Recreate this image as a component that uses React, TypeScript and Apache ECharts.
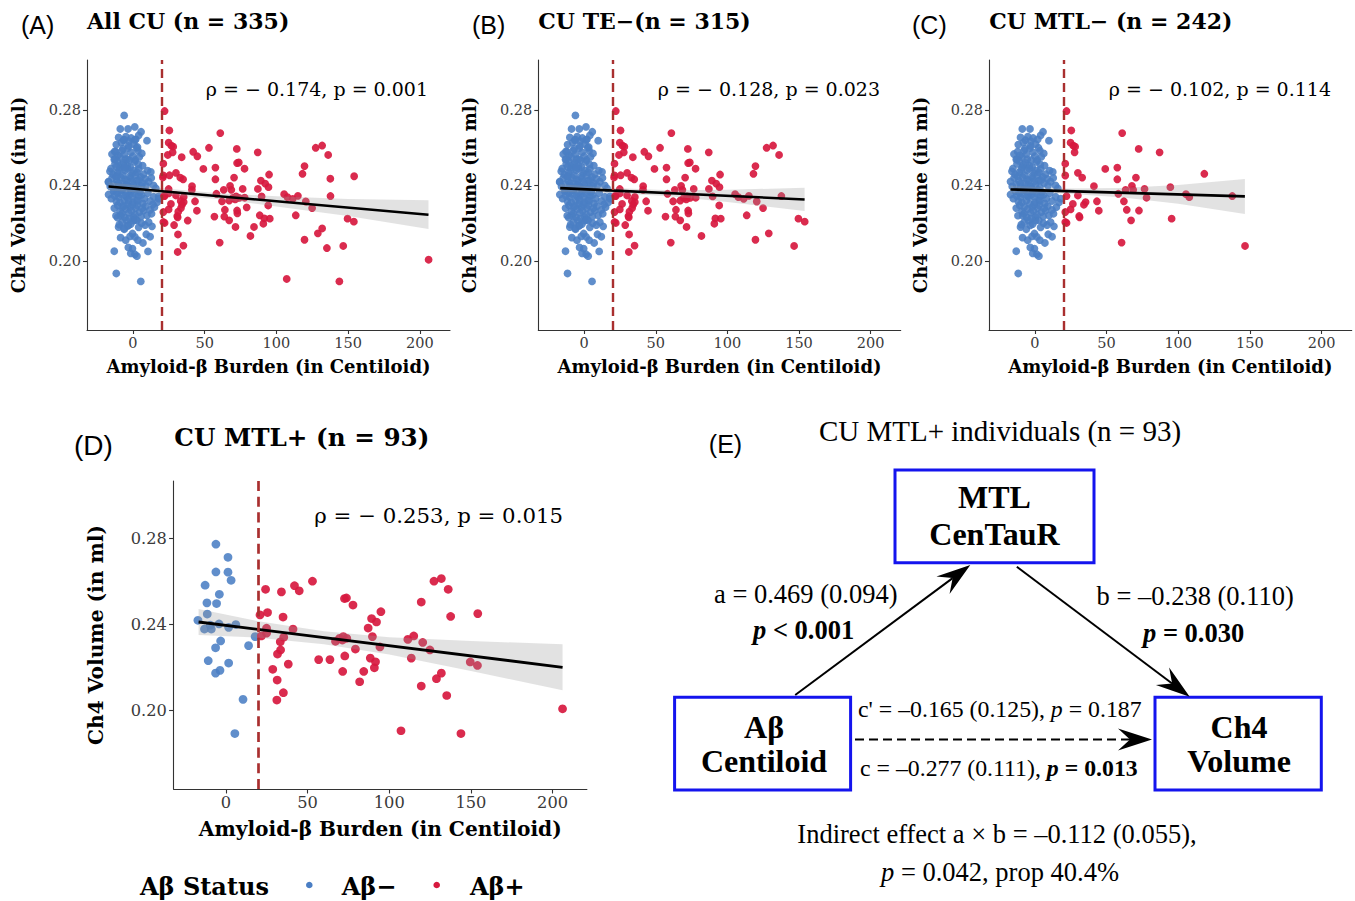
import React, { useEffect, useRef } from 'react';
import * as echarts from 'echarts';

// ---------- axis ranges & ticks ----------
const X_MIN = -32;
const X_MAX = 221;
const Y_MIN = 0.1633;
const Y_MAX = 0.3066;
const X_TICKS = [0, 50, 100, 150, 200];
const Y_TICKS = [0.2, 0.24, 0.28];
const AB_CUTOFF = 20;

// ---------- CU MTL− (panel C) ----------
const C_BLUE: number[][] = [
  [-8.8, 0.27], [-3.4, 0.27], [5.7, 0.2685],
  [-10, 0.2655], [-4.9, 0.2659], [-1.2, 0.2652], [4, 0.2666], [9.8, 0.2638], [-11.6, 0.2617], [0.5, 0.262], [-6.5, 0.264], [2, 0.2645], [-8, 0.2628], [-2.8, 0.2635],
  [-7.6, 0.2585], [-14.6, 0.2567], [-1.4, 0.2576], [-13, 0.2538], [-5.3, 0.2539], [1.7, 0.2535], [-10.5, 0.256], [-3.5, 0.2598], [3.5, 0.2585], [6.2, 0.257], [-9, 0.255], [-6, 0.2565], [0, 0.2555], [-12, 0.258], [4.5, 0.2552],
  [-15.3, 0.249], [-8.8, 0.2497], [-1.9, 0.2497], [4, 0.2488], [10.3, 0.2479], [-12.5, 0.2515], [-6.5, 0.252], [-3.8, 0.2505], [1, 0.2525], [6.8, 0.2505], [-16, 0.2475], [-10.8, 0.247], [-5.5, 0.248], [-0.5, 0.2465], [2.8, 0.247], [7.5, 0.246], [12.5, 0.2472], [-13.8, 0.2458], [-8.2, 0.251], [-2.5, 0.2535], [3.8, 0.2512], [-11, 0.253],
  [-17, 0.2421], [-11.2, 0.2426], [-4.2, 0.2426], [2.8, 0.2426], [8.6, 0.2435], [14.4, 0.24], [-14.5, 0.244], [-8.5, 0.2445], [-1.5, 0.244], [5.5, 0.2445], [11, 0.242], [-13, 0.2405], [-6.8, 0.241], [0.5, 0.2405], [6.5, 0.2412], [-15.8, 0.2395], [-9.8, 0.2392], [-3, 0.2395], [3.5, 0.239], [9.2, 0.2398], [16, 0.2385], [-11.8, 0.245], [-5.5, 0.2432], [12.8, 0.244],
  [-17, 0.2352], [-10, 0.2338], [-4.2, 0.2338], [2.8, 0.2321], [16.8, 0.231], [-13.5, 0.237], [-7.5, 0.2375], [-1, 0.2372], [5, 0.2365], [10.5, 0.236], [14.5, 0.234], [-15, 0.233], [-8.5, 0.2355], [-2.5, 0.235], [4, 0.2345], [8, 0.233], [12, 0.2318], [-11.5, 0.2315], [-6, 0.232], [0, 0.2312], [7, 0.2305], [18, 0.233], [-3.8, 0.2362], [1.5, 0.2355], [-12.8, 0.2345],
  [-10.6, 0.2294], [-1.9, 0.2285], [7.4, 0.2267], [-7.6, 0.225], [9.8, 0.2241], [-13, 0.228], [-5, 0.2275], [2, 0.228], [4.5, 0.2258], [12, 0.227], [15, 0.2285], [-9, 0.2262], [-3, 0.2255], [0.5, 0.2232], [-11.8, 0.224], [-5.8, 0.2232], [5.8, 0.2235], [13, 0.225], [-1, 0.2265], [3, 0.2295], [9, 0.229],
  [0.5, 0.2214], [2.8, 0.2215], [-3.2, 0.2188], [13.3, 0.2183], [-10, 0.2179], [-7.5, 0.2205], [-4.5, 0.2215], [6, 0.22], [-1.5, 0.2195], [8.5, 0.219], [-9.5, 0.2192], [4, 0.2178], [11, 0.2205], [-6, 0.2168],
  [-8.6, 0.2123], [-0.3, 0.2145], [1.4, 0.2127], [9.3, 0.2141], [7, 0.2095], [-5, 0.211], [3.5, 0.211], [-2, 0.213], [12, 0.2128],
  [-3.2, 0.2071], [-0.3, 0.2065], [-13, 0.2051], [1.4, 0.2035], [2.8, 0.2025], [-1.5, 0.204], [-11.6, 0.1933],
  [-9.5, 0.2485], [-4, 0.249], [0.5, 0.248], [-7, 0.2455], [-2, 0.245], [2, 0.2455], [-10, 0.241], [-4.8, 0.24], [-0.5, 0.242], [4.2, 0.2428], [-8, 0.238], [-2, 0.2383], [2.5, 0.2375], [-11, 0.2362], [-5.2, 0.2345], [-0.5, 0.234], [6, 0.235], [-9, 0.231], [-3.5, 0.2302], [3.5, 0.2318], [-7.5, 0.2285], [-0.5, 0.2298], [6.5, 0.228], [-8.5, 0.224], [-2.5, 0.2225], [1.5, 0.2245], [-12.5, 0.254], [-7, 0.2595], [-3, 0.261], [2.5, 0.26],
];

const C_RED: number[][] = [
  [22.1, 0.2795], [25.4, 0.2692], [24.9, 0.2627], [26.8, 0.2611], [28.1, 0.2606], [27.7, 0.2576], [21.2, 0.2516], [21.2, 0.2453], [30, 0.2467], [33, 0.2442],
  [49.1, 0.2488], [57.5, 0.2495], [57.5, 0.2433], [70.5, 0.2442], [60.9, 0.2678], [72.4, 0.2594], [87, 0.2576], [118.2, 0.2462], [41.2, 0.2396], [67.7, 0.2398],
  [63.3, 0.2377], [68.6, 0.2377], [76.5, 0.2382], [94.5, 0.2391], [58.2, 0.2356], [77.9, 0.2335], [105.4, 0.2354], [107.7, 0.2338], [137.7, 0.2344], [22.1, 0.2344],
  [30, 0.2347], [35.4, 0.2312], [34.2, 0.2298], [43.3, 0.2316], [62.1, 0.2316], [26.5, 0.2302], [24.9, 0.2273], [21.2, 0.2259], [30.9, 0.2238], [31.2, 0.2231],
  [44.6, 0.2266], [64.1, 0.2271], [72.6, 0.2267], [67.1, 0.2215], [95.4, 0.2224], [21.2, 0.2206], [22.1, 0.2201], [60.5, 0.2097], [146.6, 0.2079],
];

// ---------- CU MTL+ (panel D) ----------
const D_BLUE: number[][] = [
  [-6.1, 0.2772], [1.3, 0.2711], [-6.1, 0.2643], [1.3, 0.2642], [3.2, 0.2604], [-12.7, 0.2581], [-4, 0.2539], [-11.6, 0.2499], [-5.7, 0.2496], [-11.4, 0.2447],
  [-17.1, 0.2418], [-13.1, 0.2377], [-8.9, 0.2377], [-4.2, 0.2401], [1.7, 0.2385], [6.1, 0.2398], [-3.2, 0.2322], [-6.3, 0.229], [13.9, 0.23], [17.9, 0.2342],
  [-10.8, 0.223], [1.7, 0.2219], [-3.6, 0.2185], [-6.3, 0.2172], [10.5, 0.205], [5.5, 0.1891], [-9.5, 0.2395],
];

// [centiloid, volume, TE+ flag (1 = not in CU TE−)]
const D_RED: number[][] = [
  [20.9, 0.2443, 0], [21.7, 0.2345, 0], [24.3, 0.2562, 0], [25.5, 0.2454, 0], [24.9, 0.2381, 0], [24.9, 0.2358, 0], [34, 0.255, 0], [35, 0.2433, 0], [41.1, 0.2377, 0], [42, 0.2579, 0],
  [44.9, 0.2555, 0], [53, 0.26, 0], [33.3, 0.2318, 0], [35.4, 0.2339, 0], [33.5, 0.228, 0], [31.6, 0.2261, 0], [38.2, 0.2214, 1], [28.7, 0.219, 0], [31.4, 0.214, 0], [35.2, 0.2081, 0],
  [31.2, 0.2047, 0], [56.8, 0.2235, 0], [63.7, 0.2235, 0], [67.1, 0.232, 0], [69.6, 0.2334, 0], [71.9, 0.2342, 0], [74, 0.2334, 0], [71.3, 0.2326, 0], [72.6, 0.2519, 0], [73.8, 0.2522, 0],
  [77.8, 0.2489, 0], [72.8, 0.2252, 0], [71.5, 0.218, 0], [79.3, 0.2284, 1], [81.9, 0.2132, 0], [84.4, 0.218, 1], [87.1, 0.2382, 0], [89.2, 0.2426, 0], [92.2, 0.241, 0], [89.7, 0.2342, 0],
  [88.4, 0.2242, 1], [91.6, 0.2225, 0], [90.9, 0.2197, 0], [94.9, 0.2458, 0], [94.3, 0.2294, 0], [107.2, 0.1904, 1], [111.4, 0.2329, 0], [113.5, 0.2242, 0], [115, 0.2345, 0], [120.5, 0.2315, 0],
  [119.6, 0.2503, 0], [119.6, 0.2112, 0], [124.9, 0.228, 0], [127.4, 0.26, 0], [131.9, 0.2612, 0], [136.1, 0.2562, 0], [137.6, 0.2436, 1], [128.9, 0.2146, 0], [131.9, 0.2172, 1], [135.2, 0.2068, 1],
  [143.9, 0.1891, 1], [149.6, 0.2224, 0], [154, 0.2208, 0], [154.2, 0.2449, 1], [206.1, 0.2006, 1],
];

// ---------- fitted lines & 95% bands ----------
const FIT_A = [[-17, 0.2395], [206, 0.2245]];
const BAND_A = [[-17, 0.2373, 0.2417], [20, 0.2355, 0.2385], [60, 0.2327, 0.2359], [100, 0.2289, 0.2343], [150, 0.2238, 0.2328], [206, 0.2169, 0.2321]];
const FIT_B = [[-16.7, 0.2386], [153.9, 0.2326]];
const BAND_B = [[-16.7, 0.2366, 0.2406], [20, 0.236, 0.2386], [60, 0.2343, 0.2375], [100, 0.2313, 0.2377], [153.9, 0.2264, 0.2388]];
const FIT_C = [[-17, 0.2379], [146.5, 0.2342]];
const BAND_C = [[-17, 0.2359, 0.2399], [20, 0.2358, 0.2384], [60, 0.2337, 0.2387], [100, 0.2303, 0.2403], [146.5, 0.2249, 0.2435]];
const FIT_D = [[-16.7, 0.241], [206.1, 0.2199]];
const BAND_D = [[-16.7, 0.235, 0.247], [20, 0.2337, 0.2413], [60, 0.2307, 0.2367], [100, 0.2259, 0.2339], [150, 0.2182, 0.2322], [206.1, 0.2092, 0.2306]];

// ---------- panel texts ----------
const PANEL_LABELS = ['(A)', '(B)', '(C)', '(D)'];
const PANEL_TITLES = ['All CU (n = 335)', 'CU TE\u2212(n = 315)', 'CU MTL\u2212 (n = 242)', 'CU MTL+ (n = 93)'];
const RHO_TEXTS = [
  '\u03c1 = \u2212 0.174, p = 0.001',
  '\u03c1 = \u2212 0.128, p = 0.023',
  '\u03c1 = \u2212 0.102, p = 0.114',
  '\u03c1 = \u2212 0.253, p = 0.015',
];
const X_NAME = 'Amyloid-\u03b2 Burden (in Centiloid)';
const Y_NAME = 'Ch4 Volume (in ml)';
const LEGEND_TITLE = 'A\u03b2 Status';
const LEGEND_NAMES = ['A\u03b2\u2212', 'A\u03b2+'];

const SERIF = '"DejaVu Serif", serif';
const SANS = '"Liberation Sans", Arial, sans-serif';
const TIMES = '"Liberation Serif", "Times New Roman", serif';
const BLUE = '#4A7EC4';
const RED = '#D7193F';
const VLINE = '#A92F2F';

const xy = (r: number[]) => [r[0], r[1]];

const PANELS = [
  { blue: [...C_BLUE, ...D_BLUE], red: [...C_RED, ...D_RED.map(xy)], fit: FIT_A, band: BAND_A },
  { blue: [...C_BLUE, ...D_BLUE], red: [...C_RED, ...D_RED.filter((r) => r[2] === 0).map(xy)], fit: FIT_B, band: BAND_B },
  { blue: C_BLUE, red: C_RED, fit: FIT_C, band: BAND_C },
  { blue: D_BLUE, red: D_RED.map(xy), fit: FIT_D, band: BAND_D },
];

const LAYOUT = [
  { grid: { left: 87, top: 60, width: 363, height: 270 }, s: 1, lx: 21, ly: 25, tx: 87, ty: 21, rx: 428, ry: 89, yGap: 60 },
  { grid: { left: 538.3, top: 60, width: 362.4, height: 270 }, s: 1, lx: 472, ly: 25, tx: 538.3, ty: 21, rx: 880, ry: 89, yGap: 60 },
  { grid: { left: 989, top: 60, width: 362.7, height: 270 }, s: 1, lx: 912, ly: 25, tx: 989.3, ty: 21, rx: 1331, ry: 89, yGap: 60 },
  { grid: { left: 173.6, top: 481, width: 413.3, height: 308 }, s: 1.12, lx: 74, ly: 445, tx: 174.3, ty: 437, rx: 563, ry: 515, yGap: 68 },
];

function txt(x: number, y: number, text: string, font: string, align = 'left', extra: any = {}) {
  return {
    type: 'text',
    x,
    y,
    silent: true,
    style: { text, font, fill: '#000', align, textAlign: align, verticalAlign: 'middle', textVerticalAlign: 'middle', ...extra },
  };
}

function arrow(x1: number, y1: number, x2: number, y2: number, dashed: boolean) {
  const L = 34, W = 11, N = 12;
  const dx = x2 - x1, dy = y2 - y1;
  const len = Math.sqrt(dx * dx + dy * dy);
  const ux = dx / len, uy = dy / len;
  const nx = -uy, ny = ux;
  const bx = x2 - ux * L, by = y2 - uy * L;
  const mx = x2 - ux * (L - N), my = y2 - uy * (L - N);
  return [
    {
      type: 'line',
      silent: true,
      shape: { x1, y1, x2: mx, y2: my },
      style: { stroke: '#000', lineWidth: 2, lineDash: dashed ? [9, 5] : null },
    },
    {
      type: 'polygon',
      silent: true,
      shape: { points: [[x2, y2], [bx + nx * W, by + ny * W], [mx, my], [bx - nx * W, by - ny * W]] },
      style: { fill: '#000' },
    },
  ];
}

function buildOption() {
  const grid: any[] = [];
  const xAxis: any[] = [];
  const yAxis: any[] = [];
  const series: any[] = [];
  const graphic: any[] = [];

  PANELS.forEach((p, i) => {
    const L = LAYOUT[i];
    const s = L.s;
    grid.push({ ...L.grid, outerBoundsMode: 'none', containLabel: false });
    const axisCommon = {
      gridIndex: i,
      type: 'value',
      splitLine: { show: false },
      axisLine: { show: true, onZero: false, lineStyle: { color: '#333', width: 1.1 } },
      axisTick: { show: true, length: 4 * s, lineStyle: { color: '#333', width: 1.1 } },
      nameLocation: 'middle',
      nameTextStyle: { fontFamily: SERIF, fontWeight: 'bold', fontSize: 18 * s, color: '#000' },
    };
    xAxis.push({
      ...axisCommon,
      min: X_MIN,
      max: X_MAX,
      axisTick: { ...axisCommon.axisTick, customValues: X_TICKS },
      axisLabel: { customValues: X_TICKS, fontFamily: SERIF, fontSize: 14.5 * s, color: '#3a3a3a', margin: 5 },
      name: X_NAME,
      nameGap: 27 * s,
    });
    yAxis.push({
      ...axisCommon,
      min: Y_MIN,
      max: Y_MAX,
      axisTick: { ...axisCommon.axisTick, customValues: Y_TICKS },
      axisLabel: {
        customValues: Y_TICKS,
        fontFamily: SERIF,
        fontSize: 14.5 * s,
        color: '#3a3a3a',
        margin: 6 * s,
        formatter: (v: number) => v.toFixed(2),
      },
      name: Y_NAME,
      nameRotate: 90,
      nameGap: L.yGap,
    });

    series.push({
      type: 'line',
      xAxisIndex: i,
      yAxisIndex: i,
      data: [],
      silent: true,
      z: 1,
      markLine: {
        silent: true,
        animation: false,
        symbol: ['none', 'none'],
        label: { show: false },
        lineStyle: { color: VLINE, width: 2.4 * s, type: [9 * s, 5 * s], opacity: 1 },
        emphasis: { disabled: true },
        data: [{ xAxis: AB_CUTOFF }],
      },
    });
    series.push({
      type: 'scatter',
      name: LEGEND_NAMES[0],
      xAxisIndex: i,
      yAxisIndex: i,
      data: p.blue,
      symbolSize: 7.8 * s,
      itemStyle: { color: BLUE, opacity: 0.88 },
      z: 2,
    });
    series.push({
      type: 'scatter',
      name: LEGEND_NAMES[1],
      xAxisIndex: i,
      yAxisIndex: i,
      data: p.red,
      symbolSize: 7.8 * s,
      itemStyle: { color: RED, opacity: 0.92 },
      z: 2,
    });
    const band = p.band;
    series.push({
      type: 'custom',
      xAxisIndex: i,
      yAxisIndex: i,
      data: band,
      encode: { x: 0, y: [1, 2] },
      silent: true,
      z: 3,
      renderItem: (params: any, api: any) => {
        if (params.dataIndex !== 0) return null;
        const pts: number[][] = [];
        band.forEach((b) => pts.push(api.coord([b[0], b[2]])));
        for (let k = band.length - 1; k >= 0; k--) pts.push(api.coord([band[k][0], band[k][1]]));
        return { type: 'polygon', shape: { points: pts }, style: { fill: 'rgba(150,150,150,0.28)' } };
      },
    });
    series.push({
      type: 'line',
      xAxisIndex: i,
      yAxisIndex: i,
      data: p.fit,
      symbol: 'none',
      silent: true,
      lineStyle: { color: '#000', width: 2.6 * s },
      z: 4,
    });

    graphic.push(txt(L.lx, L.ly, PANEL_LABELS[i], `${Math.round(25 * s)}px ${SANS}`));
    graphic.push(txt(L.tx, L.ty, PANEL_TITLES[i], `bold ${22 * s}px ${SERIF}`));
    graphic.push(txt(L.rx, L.ry, RHO_TEXTS[i], `${19 * s}px ${SERIF}`, 'right'));
  });

  // legend
  graphic.push(txt(140, 886, LEGEND_TITLE, `bold 24px ${SERIF}`));
  graphic.push({ type: 'circle', silent: true, shape: { cx: 309.3, cy: 885, r: 3.3 }, style: { fill: BLUE } });
  graphic.push(txt(341.7, 886, LEGEND_NAMES[0], `bold 24px ${SERIF}`));
  graphic.push({ type: 'circle', silent: true, shape: { cx: 436.7, cy: 885, r: 3.3 }, style: { fill: RED } });
  graphic.push(txt(470, 886, LEGEND_NAMES[1], `bold 24px ${SERIF}`));

  // panel E: mediation diagram
  const mk = (F: number) => ({
    r: { fontFamily: TIMES, fontSize: F, fill: '#000' },
    i: { fontFamily: TIMES, fontSize: F, fontStyle: 'italic', fill: '#000' },
    b: { fontFamily: TIMES, fontSize: F, fontWeight: 'bold', fill: '#000' },
    bi: { fontFamily: TIMES, fontSize: F, fontWeight: 'bold', fontStyle: 'italic', fill: '#000' },
  });
  const F = 26.5;
  const FS = 23.8;
  const rich = mk(F);
  const richS = mk(FS);

  graphic.push(txt(708.8, 444, '(E)', `25px ${SANS}`));
  graphic.push(txt(1000, 431, 'CU MTL+ individuals (n = 93)', `29px ${TIMES}`, 'center'));

  const boxStyle = { fill: '#fff', stroke: '#1414EE', lineWidth: 3 };
  graphic.push({ type: 'rect', silent: true, shape: { x: 895, y: 470, width: 199, height: 92.7 }, style: boxStyle });
  graphic.push({ type: 'rect', silent: true, shape: { x: 674.6, y: 697.3, width: 176, height: 92.7 }, style: boxStyle });
  graphic.push({ type: 'rect', silent: true, shape: { x: 1155, y: 697.3, width: 166.3, height: 92.7 }, style: boxStyle });

  const boxFont = `bold 32px ${TIMES}`;
  graphic.push(txt(994.5, 497, 'MTL', boxFont, 'center'));
  graphic.push(txt(994.5, 534, 'CenTauR', boxFont, 'center'));
  graphic.push(txt(764, 726.7, 'A\u03b2', boxFont, 'center'));
  graphic.push(txt(764, 760.7, 'Centiloid', boxFont, 'center'));
  graphic.push(txt(1239, 726.7, 'Ch4', boxFont, 'center'));
  graphic.push(txt(1239, 760.7, 'Volume', boxFont, 'center'));

  graphic.push(...arrow(795.2, 695, 970.3, 565, false));
  graphic.push(...arrow(1016.8, 566.7, 1189.7, 696.7, false));
  graphic.push(...arrow(855, 739.5, 1152, 739.5, true));

  graphic.push(txt(714, 594.3, '{r|a = 0.469 (0.094)}', `${F}px ${TIMES}`, 'left', { rich }));
  graphic.push(txt(753, 630, '{bi|p}{b| < 0.001}', `${F}px ${TIMES}`, 'left', { rich }));
  graphic.push(txt(1096.6, 596, '{r|b = \u20130.238 (0.110)}', `${F}px ${TIMES}`, 'left', { rich }));
  graphic.push(txt(1143, 632.7, '{bi|p}{b| = 0.030}', `${F}px ${TIMES}`, 'left', { rich }));
  graphic.push(txt(858, 709.3, "{r|c' = \u20130.165 (0.125), }{i|p}{r| = 0.187}", `${FS}px ${TIMES}`, 'left', { rich: richS }));
  graphic.push(txt(860, 768.3, '{r|c = \u20130.277 (0.111), }{bi|p}{b| = 0.013}', `${FS}px ${TIMES}`, 'left', { rich: richS }));
  graphic.push(txt(997, 834, '{r|Indirect effect a \u00d7 b = \u20130.112 (0.055),}', `${F}px ${TIMES}`, 'center', { rich }));
  graphic.push(txt(1000, 871.7, '{i|p}{r| = 0.042, prop 40.4%}', `${F}px ${TIMES}`, 'center', { rich }));

  return {
    animation: false,
    backgroundColor: '#fff',
    grid,
    xAxis,
    yAxis,
    series,
    graphic: { elements: graphic },
  };
}

export default function App() {
  const ref = useRef<HTMLDivElement>(null);
  useEffect(() => {
    const chart = echarts.init(ref.current as HTMLDivElement, null, { renderer: 'svg' });
    chart.setOption(buildOption() as any);
    return () => chart.dispose();
  }, []);
  return (
    <div
      ref={ref}
      style={{ position: 'fixed', left: 0, top: 0, width: 1355, height: 901, background: '#fff' }}
    />
  );
}
